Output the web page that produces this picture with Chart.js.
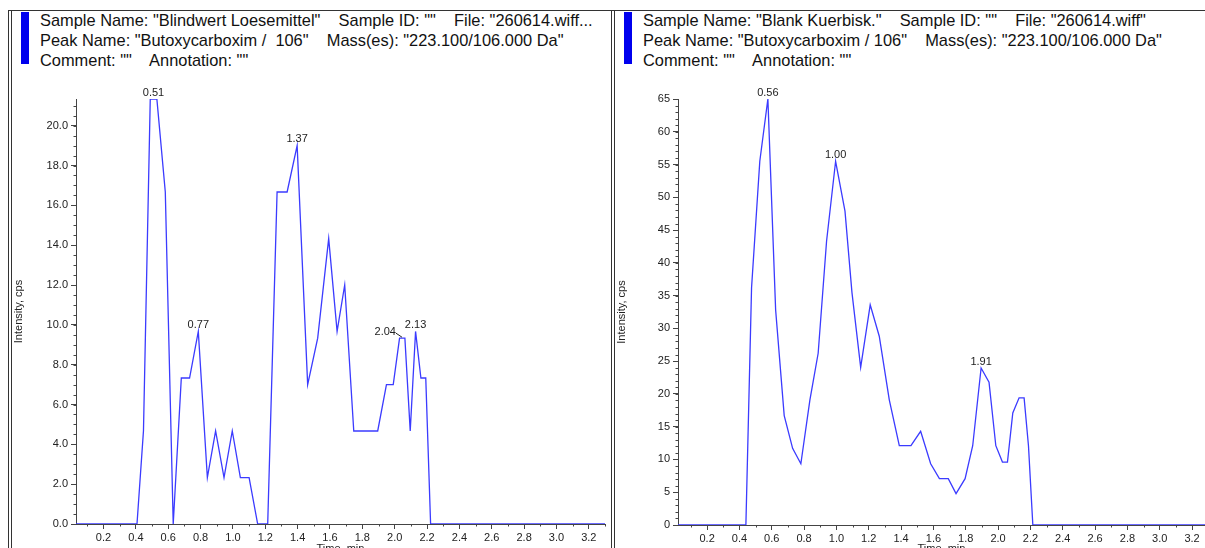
<!DOCTYPE html>
<html>
<head>
<meta charset="utf-8">
<script src="https://cdn.jsdelivr.net/npm/chart.js@4.4.1/dist/chart.umd.min.js"></script>
<style>
  html, body { margin: 0; padding: 0; background: #fff; overflow: hidden; }
  body { width: 1205px; height: 548px; position: relative; font-family: "Liberation Sans", Arial, sans-serif; }
  .line { position: absolute; background: #333; }
  .bar { position: absolute; background: #0000ee; top: 12px; width: 8px; height: 52px; }
  .head { position: absolute; top: 10px; font-size: 16.4px; line-height: 20px; color: #111; white-space: pre; }
  canvas { position: absolute; }
</style>
</head>
<body>
<div class="line" style="left:8px; top:10px; width:1197px; height:1px;"></div>
<div class="line" style="left:8px; top:10px; width:1px; height:538px;"></div>
<div class="line" style="left:11px; top:10px; width:1px; height:538px;"></div>
<div class="line" style="left:611px; top:10px; width:1px; height:538px;"></div>
<div class="line" style="left:614px; top:10px; width:1px; height:538px;"></div>

<div class="bar" style="left:21px;"></div>
<div class="head" style="left:40px;">Sample Name: "Blindwert Loesemittel"    Sample ID: ""    File: "260614.wiff...
Peak Name: "Butoxycarboxim /  106"    Mass(es): "223.100/106.000 Da"
Comment: ""    Annotation: ""</div>

<div class="bar" style="left:624px;"></div>
<div class="head" style="left:643px;">Sample Name: "Blank Kuerbisk."    Sample ID: ""    File: "260614.wiff"
Peak Name: "Butoxycarboxim / 106"    Mass(es): "223.100/106.000 Da"
Comment: ""    Annotation: ""</div>

<canvas id="left" style="left:12px; top:66px;" width="598" height="490"></canvas>
<canvas id="right" style="left:615px; top:66px;" width="590" height="490"></canvas>

<script>
// left trace: Blindwert Loesemittel
const leftTime = [0.03, 0.407, 0.447, 0.489, 0.530, 0.582, 0.631, 0.681, 0.732, 0.786,
  0.842, 0.893, 0.945, 0.996, 1.046, 1.100, 1.153, 1.215, 1.273, 1.335, 1.397, 1.462,
  1.524, 1.592, 1.644, 1.691, 1.747, 1.80, 1.85, 1.895, 1.949, 1.991, 2.030, 2.063,
  2.096, 2.129, 2.162, 2.192, 2.222, 3.30];
const leftIntensity = [0, 0, 4.67, 21.33, 21.33, 16.67, 0, 7.33, 7.33, 9.67,
  2.33, 4.67, 2.33, 4.67, 2.33, 2.33, 0, 0, 16.67, 16.67, 19.0, 7.0,
  9.33, 14.33, 9.67, 12.0, 4.67, 4.67, 4.67, 4.67, 7.0, 7.0, 9.33, 9.33,
  4.67, 9.67, 7.33, 7.33, 0, 0];
const leftPeakNames = ['0.51', '0.77', '1.37', '2.04', '2.13'];
const leftPeakTime = [0.509, 0.786, 1.397, 2.045, 2.129];
const leftPeakIntensity = [21.33, 9.67, 19.0, 9.33, 9.67];

// right trace: Blank Kuerbisk.
const rightTime = [0.02, 0.44, 0.475, 0.526, 0.576, 0.624, 0.677, 0.729, 0.780, 0.836,
  0.887, 0.939, 0.995, 1.053, 1.096, 1.150, 1.209, 1.265, 1.327, 1.389, 1.461,
  1.521, 1.583, 1.637, 1.692, 1.740, 1.796, 1.843, 1.895, 1.944, 1.986, 2.027,
  2.058, 2.091, 2.130, 2.161, 2.188, 2.215, 3.28];
const rightIntensity = [0, 0, 36.2, 55.5, 65.0, 32.8, 16.7, 11.7, 9.35, 19.1,
  26.2, 43.3, 55.5, 47.9, 35.5, 24.05, 33.6, 28.8, 19.1, 12.1, 12.1,
  14.3, 9.35, 7.07, 7.07, 4.78, 7.07, 12.1, 23.95, 21.8, 12.1, 9.6,
  9.6, 17.1, 19.4, 19.4, 12.1, 0, 0];
const rightPeakNames = ['0.56', '1.00', '1.91'];
const rightPeakTime = [0.576, 0.995, 1.895];
const rightPeakIntensity = [65.0, 55.5, 23.95];

const xTicks = [0.2, 0.4, 0.6, 0.8, 1.0, 1.2, 1.4, 1.6, 1.8, 2.0, 2.2, 2.4, 2.6, 2.8, 3.0, 3.2];
const leftYTicks = [0, 2, 4, 6, 8, 10, 12, 14, 16, 18, 20];
const rightYTicks = [0, 5, 10, 15, 20, 25, 30, 35, 40, 45, 50, 55, 60, 65];

const font = { family: '"Liberation Sans", Arial, sans-serif', size: 11 };
const axisColor = '#444';

// short minor ticks along both axes
const minorTicks = {
  id: 'minorTicks',
  afterDraw(chart, args, opts) {
    const ctx = chart.ctx;
    const xs = chart.scales.x, ys = chart.scales.y;
    ctx.save();
    ctx.strokeStyle = axisColor;
    ctx.lineWidth = 1;
    ctx.beginPath();
    for (let v = 0.1; v <= xs.max + 1e-9; v += 0.2) {
      const px = Math.round(xs.getPixelForValue(v)) + 0.5;
      ctx.moveTo(px, xs.top); ctx.lineTo(px, xs.top + 2.5);
    }
    for (let v = 0; v <= ys.max + 1e-9; v += opts.yStep) {
      const py = Math.round(ys.getPixelForValue(v)) + 0.5;
      ctx.moveTo(ys.right - 2.5, py); ctx.lineTo(ys.right, py);
    }
    ctx.stroke();
    ctx.restore();
  }
};

// peak apex labels
const peakLabels = {
  id: 'peakLabels',
  afterDatasetsDraw(chart, args, opts) {
    const ctx = chart.ctx;
    ctx.save();
    ctx.font = '11px ' + font.family;
    ctx.fillStyle = '#222';
    ctx.strokeStyle = '#222';
    ctx.textBaseline = 'bottom';
    opts.names.forEach((name, i) => {
      const px = chart.scales.x.getPixelForValue(opts.times[i]);
      const py = chart.scales.y.getPixelForValue(opts.values[i]);
      if (opts.leader && opts.leader[i]) {
        ctx.textAlign = 'right';
        ctx.fillText(name, px - 6, py - 1);
        ctx.beginPath();
        ctx.moveTo(px - 6, py - 5);
        ctx.lineTo(px, py - 1);
        ctx.stroke();
      } else {
        ctx.textAlign = 'center';
        ctx.fillText(name, px, py - 1);
      }
    });
    ctx.restore();
  }
};

function makeChart(id, times, values, cfg) {
  const ctx = document.getElementById(id).getContext('2d');
  return new Chart(ctx, {
    type: 'line',
    data: {
      datasets: [{
        data: times.map((t, i) => ({ x: t, y: values[i] })),
        borderColor: '#3b3bff',
        borderWidth: 1.3,
        pointRadius: 0,
        tension: 0,
        fill: false,
      }],
    },
    options: {
      responsive: false,
      animation: false,
      layout: { padding: { top: 33, right: cfg.padRight, left: 0, bottom: 0 } },
      plugins: {
        legend: { display: false },
        tooltip: { enabled: false },
        minorTicks: { yStep: cfg.yMinor },
        peakLabels: { names: cfg.names, times: cfg.peakTimes, values: cfg.peakValues, leader: cfg.leader },
      },
      scales: {
        x: {
          type: 'linear',
          min: cfg.xMin,
          max: cfg.xMax,
          afterBuildTicks: (s) => { s.ticks = xTicks.map((v) => ({ value: v })); },
          afterFit: (s) => { s.height = cfg.xHeight; },
          ticks: {
            autoSkip: false, maxRotation: 0, padding: 2, color: '#222', font,
            callback: (v) => Number(v).toFixed(1),
          },
          grid: { drawOnChartArea: false, drawTicks: true, tickLength: 5, color: axisColor },
          border: { display: true, color: axisColor, width: 1 },
          title: { display: true, text: 'Time, min', color: '#222', font, padding: 0 },
        },
        y: {
          min: 0,
          max: cfg.yMax,
          afterBuildTicks: (s) => { s.ticks = cfg.yTicks.map((v) => ({ value: v })); },
          afterFit: (s) => { s.width = cfg.yWidth; },
          ticks: {
            autoSkip: false, padding: 3, color: '#222', font,
            callback: (v) => Number(v).toFixed(cfg.yDigits),
          },
          grid: { drawOnChartArea: false, drawTicks: true, tickLength: 5, color: axisColor },
          border: { display: true, color: axisColor, width: 1 },
          title: { display: true, text: 'Intensity, cps', color: '#222', font, padding: 0 },
        },
      },
    },
    plugins: [minorTicks, peakLabels],
  });
}

makeChart('left', leftTime, leftIntensity, {
  xMin: 0.03, xMax: 3.30, yMax: 21.34, yTicks: leftYTicks, yDigits: 1, yMinor: 0.5,
  yWidth: 64, xHeight: 32, padRight: 5,
  names: leftPeakNames, peakTimes: leftPeakTime, peakValues: leftPeakIntensity,
  leader: [false, false, false, true, false],
});

makeChart('right', rightTime, rightIntensity, {
  xMin: 0.02, xMax: 3.28, yMax: 65, yTicks: rightYTicks, yDigits: 0, yMinor: 1,
  yWidth: 63, xHeight: 31, padRight: 0,
  names: rightPeakNames, peakTimes: rightPeakTime, peakValues: rightPeakIntensity,
});
</script>
</body>
</html>
